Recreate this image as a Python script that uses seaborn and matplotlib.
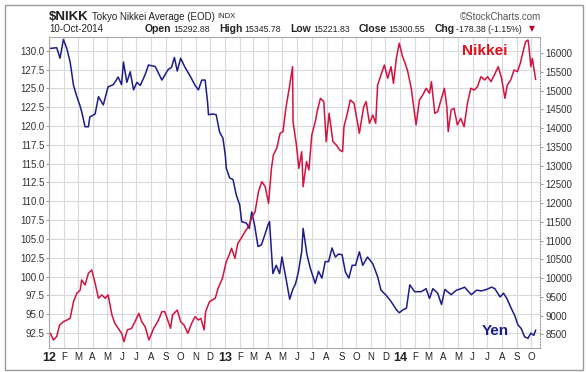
import pandas as pd
import numpy as np
import matplotlib
matplotlib.use("Agg")
import matplotlib.pyplot as plt
from matplotlib.patches import Rectangle
import seaborn as sns

# Yen (left axis)
yen_dates = [
    "2012-01-03", "2012-01-17", "2012-01-24", "2012-01-31", "2012-02-07", "2012-02-14", "2012-02-21", "2012-02-28",
    "2012-03-05", "2012-03-09", "2012-03-16", "2012-03-23", "2012-03-26", "2012-04-06", "2012-04-13", "2012-04-23",
    "2012-05-03", "2012-05-14", "2012-05-24", "2012-05-31", "2012-06-04", "2012-06-11", "2012-06-18", "2012-06-25",
    "2012-07-02", "2012-07-09", "2012-07-19", "2012-07-26", "2012-08-09", "2012-08-23", "2012-09-05", "2012-09-12",
    "2012-09-18", "2012-09-24", "2012-10-01", "2012-10-10", "2012-10-22", "2012-10-31", "2012-11-07", "2012-11-14",
    "2012-11-21", "2012-11-26", "2012-11-28", "2012-12-07", "2012-12-14", "2012-12-21", "2012-12-28",
    "2013-01-02", "2013-01-04", "2013-01-11", "2013-01-18", "2013-01-25", "2013-02-01", "2013-02-05", "2013-02-15",
    "2013-02-21", "2013-02-26", "2013-03-04", "2013-03-11", "2013-03-18", "2013-03-25", "2013-04-01", "2013-04-04",
    "2013-04-08", "2013-04-11", "2013-04-18", "2013-04-25", "2013-04-30", "2013-05-07", "2013-05-16", "2013-05-23",
    "2013-05-28", "2013-06-03", "2013-06-10", "2013-06-13", "2013-06-21", "2013-06-28", "2013-07-08", "2013-07-15",
    "2013-07-22", "2013-07-29", "2013-08-05", "2013-08-12", "2013-08-19", "2013-08-26", "2013-09-02", "2013-09-09",
    "2013-09-16", "2013-09-23", "2013-09-30", "2013-10-08", "2013-10-15", "2013-10-25", "2013-11-05", "2013-11-15",
    "2013-11-22", "2013-12-03", "2013-12-13", "2013-12-24", "2013-12-30",
    "2014-01-07", "2014-01-14", "2014-01-21", "2014-01-31", "2014-02-07", "2014-02-14", "2014-02-24", "2014-03-03",
    "2014-03-10", "2014-03-20", "2014-03-28", "2014-04-04", "2014-04-17", "2014-04-28", "2014-05-08", "2014-05-15",
    "2014-05-29", "2014-06-09", "2014-06-19", "2014-06-30", "2014-07-10", "2014-07-17", "2014-07-28", "2014-08-04",
    "2014-08-11", "2014-08-20", "2014-08-27", "2014-09-03", "2014-09-10", "2014-09-17", "2014-09-24", "2014-09-30",
    "2014-10-06", "2014-10-10",
]
yen_values = [
    130.3, 130.4, 129.0, 131.5, 130.3, 128.5, 125.4, 123.9,
    122.8, 121.9, 119.9, 119.9, 121.2, 121.6, 123.9, 122.8,
    125.2, 125.5, 126.5, 125.5, 128.5, 125.8, 127.2, 124.8,
    125.8, 125.4, 126.8, 128.1, 127.9, 126.1, 127.5, 127.8,
    129.1, 127.3, 129.0, 127.8, 126.5, 125.4, 124.8, 126.1,
    126.1, 123.2, 121.5, 121.6, 121.5, 119.2, 118.4,
    116.1, 114.4, 113.1, 112.9, 110.8, 109.5, 107.3, 107.1,
    106.4, 108.6, 106.8, 104.0, 104.2, 105.5, 106.9, 107.3,
    103.3, 100.4, 101.5, 100.4, 102.6, 100.2, 97.0, 98.4,
    99.0, 100.6, 103.3, 106.4, 102.9, 101.1, 99.1, 100.7,
    99.8, 102.0, 102.0, 103.8, 102.6, 103.0, 102.9, 100.6,
    99.8, 101.5, 101.5, 103.3, 101.5, 102.6, 101.7, 100.0,
    98.2, 97.5, 96.7, 95.6, 95.2,
    95.6, 95.8, 98.9, 98.0, 98.0, 98.0, 98.4, 97.1,
    98.4, 97.8, 96.3, 98.3, 97.6, 98.2, 98.4, 98.6,
    97.6, 98.2, 98.1, 98.3, 98.6, 98.4, 97.3, 97.8,
    97.1, 95.8, 94.9, 93.6, 93.1, 92.0, 91.8, 92.5,
    92.2, 92.9,
]

# Nikkei (right axis)
nikkei_dates = [
    "2012-01-04", "2012-01-10", "2012-01-17", "2012-01-23", "2012-01-31", "2012-02-07", "2012-02-14", "2012-02-21",
    "2012-02-28", "2012-03-06", "2012-03-09", "2012-03-16", "2012-03-23", "2012-03-30", "2012-04-06", "2012-04-13",
    "2012-04-20", "2012-04-27", "2012-05-03", "2012-05-11", "2012-05-17", "2012-05-24", "2012-05-31", "2012-06-05",
    "2012-06-12", "2012-06-21", "2012-06-28", "2012-07-06", "2012-07-12", "2012-07-19", "2012-07-27", "2012-08-06",
    "2012-08-16", "2012-08-23", "2012-08-29", "2012-09-10", "2012-09-14", "2012-09-24", "2012-10-01", "2012-10-08",
    "2012-10-16", "2012-10-24", "2012-10-31", "2012-11-07", "2012-11-12", "2012-11-19", "2012-11-22", "2012-11-30",
    "2012-12-12", "2012-12-18", "2012-12-27",
    "2013-01-04", "2013-01-10", "2013-01-15", "2013-01-22", "2013-01-28", "2013-02-04", "2013-02-12", "2013-02-19",
    "2013-02-27", "2013-03-05", "2013-03-12", "2013-03-19", "2013-03-26", "2013-04-02", "2013-04-08", "2013-04-12",
    "2013-04-19", "2013-04-26", "2013-05-02", "2013-05-08", "2013-05-15", "2013-05-22", "2013-05-23", "2013-05-30",
    "2013-06-04", "2013-06-10", "2013-06-13", "2013-06-20", "2013-06-25", "2013-07-01", "2013-07-09", "2013-07-12",
    "2013-07-19", "2013-07-26", "2013-07-31", "2013-08-06", "2013-08-14", "2013-08-21", "2013-08-28", "2013-09-03",
    "2013-09-06", "2013-09-13", "2013-09-19", "2013-09-27", "2013-10-08", "2013-10-17", "2013-10-22", "2013-10-29",
    "2013-11-05", "2013-11-11", "2013-11-15", "2013-11-22", "2013-11-29", "2013-12-06", "2013-12-13", "2013-12-18",
    "2013-12-24", "2013-12-30",
    "2014-01-06", "2014-01-10", "2014-01-16", "2014-01-24", "2014-02-03", "2014-02-10", "2014-02-17", "2014-02-24",
    "2014-03-03", "2014-03-07", "2014-03-14", "2014-03-20", "2014-03-27", "2014-04-03", "2014-04-08", "2014-04-11",
    "2014-04-17", "2014-04-23", "2014-04-30", "2014-05-07", "2014-05-14", "2014-05-21", "2014-05-28", "2014-06-04",
    "2014-06-11", "2014-06-18", "2014-06-26", "2014-07-02", "2014-07-09", "2014-07-16", "2014-07-24", "2014-07-31",
    "2014-08-07", "2014-08-12", "2014-08-19", "2014-08-26", "2014-09-02", "2014-09-08", "2014-09-12", "2014-09-19",
    "2014-09-24", "2014-09-26", "2014-09-30", "2014-10-03", "2014-10-10",
]
nikkei_values = [
    8527, 8348, 8437, 8748, 8836, 8880, 8925, 9370,
    9594, 9683, 9950, 9816, 10128, 10217, 9861, 9461,
    9550, 9461, 9550, 9015, 8793, 8660, 8527, 8303,
    8615, 8660, 8836, 9061, 8836, 8704, 8348, 8660,
    8880, 9104, 9104, 8660, 9015, 9148, 8836, 8748,
    8527, 8793, 8970, 8880, 8925, 8615, 9104, 9370,
    9461, 9728, 9995,
    10440, 10618, 10796, 10529, 10929, 11062, 11240, 11373,
    11640, 11773, 12306, 12573, 12440, 11996, 12929, 13286,
    13463, 13865, 13908, 14532, 15066, 15643, 14174, 13553,
    12929, 13375, 12440, 13108, 12886, 13819, 14220, 14442,
    14799, 14710, 13641, 14398, 13641, 13553, 13419, 13375,
    14041, 14398, 14754, 14666, 13865, 14575, 14710, 14132,
    14353, 14132, 15154, 15421, 15688, 15332, 15643, 15198,
    15866, 16267,
    15910, 15776, 15554, 15066, 14087, 14754, 14887, 15066,
    14932, 15242, 14399, 14443, 14754, 15066, 14576, 13908,
    14487, 14532, 14087, 14265, 14041, 14666, 15066, 15021,
    15110, 15376, 15287, 15376, 15242, 15421, 15643, 15332,
    14799, 15154, 15287, 15554, 15510, 15732, 15955, 16310,
    16354, 16176, 15643, 15866, 15300.55,
]

yen_ticks = np.arange(92.5, 130.01, 2.5)
nikkei_ticks = list(range(8500, 16001, 500))
month_ticks = pd.date_range("2012-01-01", "2014-10-01", freq="MS")
month_labels = ["%02d" % (d.year % 100) if d.month == 1 else d.strftime("%b")[0] for d in month_ticks]

yen = pd.DataFrame({"date": pd.to_datetime(yen_dates), "value": yen_values})
nikkei = pd.DataFrame({"date": pd.to_datetime(nikkei_dates), "value": nikkei_values})

sns.set_style("white")
plt.rcParams["font.family"] = ["Liberation Sans", "DejaVu Sans"]

W, H = 586, 372
fig = plt.figure(figsize=(W / 100, H / 100), dpi=100)
fig.patch.set_facecolor("white")

# plot box in pixels: left 49, right 540, top 37, bottom 348
ax = fig.add_axes([49 / W, 1 - 348 / H, (540 - 49) / W, (348 - 37) / H])
ax2 = ax.twinx()

blue = "#1c1c8a"
red = "#d3123f"
grid_c = "#d9d9dc"

sns.lineplot(data=yen, x="date", y="value", ax=ax, color=blue, linewidth=1.1)
sns.lineplot(data=nikkei, x="date", y="value", ax=ax2, color=red, linewidth=1.1)

ax.set_xlim(pd.Timestamp("2012-01-01"), pd.Timestamp("2014-10-19"))
ax.set_ylim(90.52, 131.82)
ax2.set_ylim(8134, 16435)

ax.set_yticks(yen_ticks)
ax.set_yticklabels(["%.1f" % v for v in yen_ticks])
ax2.set_yticks(nikkei_ticks)
ax2.set_yticklabels([str(v) for v in nikkei_ticks])

ax.set_xticks(month_ticks)
ax.set_xticklabels(month_labels)
for lbl, d in zip(ax.get_xticklabels(), month_ticks):
    if d.month == 1:
        lbl.set_fontweight("bold")
        lbl.set_fontsize(9)
    else:
        lbl.set_fontsize(7)

ax.grid(True, color=grid_c, linewidth=0.8)
ax.set_axisbelow(True)
ax.set_xlabel("")
ax.set_ylabel("")
ax2.set_ylabel("")

ax.tick_params(axis="y", labelsize=7, labelcolor="#333333", length=2, width=0.6, color="#888888", pad=1)
ax.tick_params(axis="x", labelcolor="#222222", length=0, pad=3)
ax2.tick_params(axis="y", labelsize=7, labelcolor="#333333", length=2, width=0.6, color="#888888", pad=2)

for sp in ["left", "bottom", "top"]:
    ax.spines[sp].set_color("#a8a8a8")
    ax.spines[sp].set_linewidth(0.8)
ax.spines["right"].set_visible(False)
for sp in ["left", "bottom", "top"]:
    ax2.spines[sp].set_visible(False)
ax2.spines["right"].set_color("#999999")
ax2.spines["right"].set_linestyle(":")
ax2.spines["right"].set_linewidth(0.8)

# series names
ax.text(0.841, 0.955, "Nikkei", transform=ax.transAxes, color="#e0101c",
        fontsize=11, fontweight="bold", ha="left", va="center")
ax.text(0.882, 0.055, "Yen", transform=ax.transAxes, color=blue,
        fontsize=11, fontweight="bold", ha="left", va="center")


# header: pieces laid out left to right, each one after the previous
def run(x0, y, pieces):
    renderer = fig.canvas.get_renderer()
    x = x0
    for s, size, bold, gap in pieces:
        t = fig.text(x / W, 1 - y / H, s, fontsize=size, fontweight="bold" if bold else "normal",
                     ha="left", va="center", color="#222222")
        bb = t.get_window_extent(renderer)
        x = x + bb.width + gap


run(49, 17, [("$NIKK", 9.5, True, 3), ("Tokyo Nikkei Average (EOD)", 7, False, 3), ("INDX", 5.5, False, 0)])
fig.text(541 / W, 1 - 17 / H, "\u00a9StockCharts.com", fontsize=7, ha="right", va="center", color="#555555")
fig.text(49 / W, 1 - 29 / H, "10-Oct-2014", fontsize=7, ha="left", va="center", color="#222222")
run(145, 29, [("Open", 7.5, True, 2), ("15292.88", 6.3, False, 9),
              ("High", 7.5, True, 2), ("15345.78", 6.3, False, 9),
              ("Low", 7.5, True, 2), ("15221.83", 6.3, False, 9),
              ("Close", 7.5, True, 2), ("15300.55", 6.3, False, 9),
              ("Chg", 7.5, True, 2), ("-178.38 (-1.15%)", 6.3, False, 1)])
fig.text(529 / W, 1 - 29 / H, "\u25bc", fontsize=5.5, ha="left", va="center", color="#c00020",
         family=["DejaVu Sans"])

# outer frame
fig.patches.append(Rectangle((5 / W, 2.5 / H), 578 / W, 365 / H, transform=fig.transFigure,
                             fill=False, edgecolor="#9a9a9a", linewidth=1))

fig.savefig("out.png", dpi=100)
